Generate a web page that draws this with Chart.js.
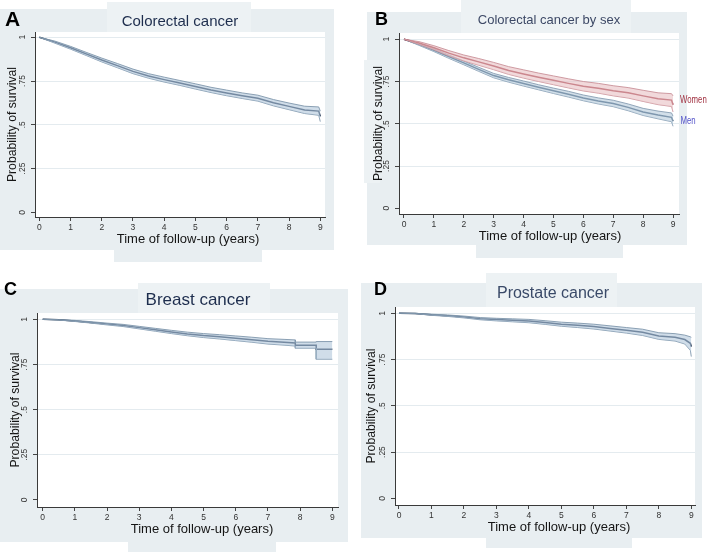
<!DOCTYPE html>
<html><head><meta charset="utf-8">
<script src="https://cdn.jsdelivr.net/npm/chart.js@4.4.1/dist/chart.umd.min.js"></script>
<style>
html,body{margin:0;padding:0;background:#fff;}
#wrap{position:relative;width:708px;height:552px;overflow:hidden;background:#fff;}
.bg{position:absolute;background:#e8eef1;}
.bx{position:absolute;background:#edf2f4;}
canvas{position:absolute;}
</style></head><body>
<div id="wrap">
  <div class="bg" style="left:0;top:9px;width:334px;height:241px"></div>
  <div class="bx" style="left:107px;top:2px;width:144px;height:31px"></div>
  <div class="bg" style="left:114px;top:245px;width:148px;height:17px"></div>

  <div class="bg" style="left:367px;top:12px;width:320px;height:233px"></div>
  <div class="bx" style="left:461px;top:0;width:170px;height:33px"></div>
  <div class="bg" style="left:476px;top:245px;width:147px;height:13px"></div>
  <div class="bx" style="left:364px;top:60px;width:16px;height:123px"></div>

  <div class="bg" style="left:0;top:289px;width:348px;height:253px"></div>
  <div class="bx" style="left:138px;top:283px;width:132px;height:30px"></div>
  <div class="bg" style="left:128px;top:535px;width:148px;height:17px"></div>

  <div class="bg" style="left:361px;top:283px;width:341px;height:255px"></div>
  <div class="bx" style="left:486px;top:273px;width:131px;height:34px"></div>
  <div class="bg" style="left:486px;top:530px;width:146px;height:18px"></div>

  <canvas id="cA" width="354" height="265" style="left:0;top:0"></canvas>
  <canvas id="cB" width="354" height="265" style="left:354px;top:0"></canvas>
  <canvas id="cC" width="354" height="282" style="left:0;top:270px"></canvas>
  <canvas id="cD" width="354" height="282" style="left:354px;top:270px"></canvas>
</div>
<script>
// ---- tick labels ----
const xTicks = [0, 1, 2, 3, 4, 5, 6, 7, 8, 9];
const yTicks = [0, 0.25, 0.5, 0.75, 1];
const yTickLabels = ['0', '.25', '.5', '.75', '1'];

// ---- A: colorectal cancer ----
const colTimes = [0, 0.5, 1, 1.5, 2, 2.5, 3, 3.5, 4, 4.5, 5, 5.5, 6, 6.5, 7, 7.5, 8, 8.5, 8.95, 9];
const colSurv  = [1, 0.972, 0.940, 0.905, 0.870, 0.838, 0.805, 0.779, 0.758, 0.739, 0.719, 0.699, 0.682, 0.666, 0.652, 0.626, 0.605, 0.585, 0.578, 0.548];
const colLower = [1, 0.966, 0.932, 0.896, 0.859, 0.826, 0.792, 0.766, 0.744, 0.725, 0.704, 0.684, 0.666, 0.650, 0.635, 0.608, 0.586, 0.564, 0.554, 0.518];
const colUpper = [1, 0.978, 0.948, 0.914, 0.881, 0.850, 0.818, 0.792, 0.772, 0.753, 0.734, 0.714, 0.698, 0.682, 0.669, 0.644, 0.624, 0.606, 0.602, 0.578];

// ---- B: colorectal cancer by sex ----
const sexTimes    = [0, 0.5, 1, 1.5, 2, 2.5, 3, 3.5, 4, 4.5, 5, 5.5, 6, 6.5, 7, 7.5, 8, 8.5, 8.95, 9];
const womenSurv   = [1, 0.978, 0.950, 0.918, 0.890, 0.866, 0.842, 0.815, 0.795, 0.775, 0.757, 0.739, 0.722, 0.710, 0.695, 0.683, 0.665, 0.648, 0.640, 0.612];
const womenLower  = [1, 0.970, 0.938, 0.902, 0.872, 0.846, 0.820, 0.792, 0.770, 0.750, 0.731, 0.712, 0.694, 0.681, 0.665, 0.652, 0.632, 0.613, 0.602, 0.570];
const womenUpper  = [1, 0.986, 0.962, 0.933, 0.907, 0.886, 0.863, 0.838, 0.819, 0.800, 0.783, 0.766, 0.750, 0.739, 0.725, 0.714, 0.698, 0.683, 0.678, 0.665];
const menSurv     = [1, 0.970, 0.935, 0.897, 0.860, 0.822, 0.785, 0.760, 0.738, 0.716, 0.695, 0.675, 0.653, 0.635, 0.620, 0.597, 0.570, 0.552, 0.538, 0.515];
const menLower    = [1, 0.964, 0.927, 0.887, 0.849, 0.810, 0.772, 0.746, 0.723, 0.701, 0.679, 0.658, 0.636, 0.617, 0.601, 0.577, 0.549, 0.529, 0.512, 0.485];
const menUpper    = [1, 0.976, 0.943, 0.907, 0.871, 0.834, 0.798, 0.774, 0.753, 0.731, 0.711, 0.692, 0.670, 0.653, 0.639, 0.617, 0.591, 0.575, 0.564, 0.545];
const groupLabels = ['Women', 'Men'];

// ---- C: breast cancer ----
const breastTimes = [0, 0.5, 1, 1.5, 2, 2.5, 3, 3.5, 4, 4.5, 5, 5.5, 6, 6.5, 7, 7.5, 7.85, 7.85, 8.5, 8.5, 9];
const breastSurv  = [1, 0.997, 0.991, 0.983, 0.974, 0.966, 0.954, 0.942, 0.930, 0.919, 0.910, 0.903, 0.895, 0.887, 0.878, 0.873, 0.869, 0.857, 0.857, 0.834, 0.834];
const breastLower = [1, 0.996, 0.988, 0.979, 0.969, 0.960, 0.947, 0.934, 0.921, 0.909, 0.899, 0.891, 0.882, 0.873, 0.863, 0.857, 0.852, 0.840, 0.840, 0.779, 0.779];
const breastUpper = [1, 0.998, 0.994, 0.987, 0.979, 0.972, 0.961, 0.950, 0.939, 0.929, 0.921, 0.915, 0.908, 0.901, 0.893, 0.889, 0.886, 0.874, 0.874, 0.877, 0.877];

// ---- D: prostate cancer ----
const prostTimes = [0, 0.5, 1, 1.5, 2, 2.5, 3, 3.5, 4, 4.5, 5, 5.5, 6, 6.5, 7, 7.5, 8, 8.5, 8.8, 8.97, 9];
const prostSurv  = [1, 0.999, 0.992, 0.987, 0.980, 0.971, 0.966, 0.962, 0.958, 0.950, 0.941, 0.935, 0.928, 0.918, 0.908, 0.897, 0.877, 0.870, 0.858, 0.838, 0.820];
const prostLower = [1, 0.998, 0.989, 0.983, 0.975, 0.965, 0.959, 0.954, 0.949, 0.940, 0.930, 0.923, 0.915, 0.904, 0.893, 0.880, 0.859, 0.850, 0.834, 0.800, 0.766];
const prostUpper = [1, 1.000, 0.995, 0.991, 0.985, 0.977, 0.973, 0.970, 0.967, 0.960, 0.952, 0.947, 0.941, 0.932, 0.923, 0.914, 0.895, 0.890, 0.882, 0.873, 0.870];

const FONT = 'Liberation Sans, Arial, Helvetica, sans-serif';

function pts(ts, vs) { return ts.map((t, i) => ({x: t, y: vs[i]})); }
function band(ts, lo, up, line, c) {
  return [
    {data: pts(ts, up), borderColor: c.edge, borderWidth: 0.9, backgroundColor: c.fill, fill: '+1', pointRadius: 0},
    {data: pts(ts, lo), borderColor: c.edge, borderWidth: 0.9, fill: false, pointRadius: 0},
    {data: pts(ts, line), borderColor: c.line, borderWidth: 1.5, fill: false, pointRadius: 0}
  ];
}
const blueC = {edge: '#7f96ac', fill: 'rgba(176,199,218,0.6)', line: '#1b2f4c'};
const menC  = {edge: '#879db2', fill: 'rgba(180,201,218,0.6)', line: '#2f4c6c'};
const womC  = {edge: '#c99198', fill: 'rgba(232,192,195,0.6)', line: '#a0323f'};

const panelText = {
  id: 'panelText',
  beforeDraw(chart) {
    const {ctx, chartArea: a} = chart;
    ctx.save();
    ctx.fillStyle = '#ffffff';
    ctx.fillRect(a.left, a.top, a.right - a.left, a.bottom - a.top);
    ctx.restore();
  },
  afterDraw(chart, args, opts) {
    const ctx = chart.ctx;
    (opts.items || []).forEach(t => {
      ctx.save();
      ctx.font = t.font;
      ctx.fillStyle = t.color;
      ctx.textAlign = t.align || 'center';
      ctx.textBaseline = t.baseline || 'middle';
      const y = (t.value !== undefined) ? chart.scales.y.getPixelForValue(t.value) : t.y;
      const x = (t.dx !== undefined) ? chart.chartArea.right + t.dx : t.x;
      ctx.translate(x, y);
      ctx.scale(t.sx || 1, 1);
      ctx.fillText(t.text, 0, 0);
      ctx.restore();
    });
  }
};

function makeChart(id, p) {
  return new Chart(document.getElementById(id), {
    type: 'line',
    data: {datasets: p.datasets},
    plugins: [panelText],
    options: {
      responsive: false,
      animation: false,
      devicePixelRatio: 1,
      layout: {padding: p.padding},
      elements: {line: {tension: 0}},
      plugins: {
        legend: {display: false},
        tooltip: {enabled: false},
        title: {display: false},
        panelText: {items: p.texts}
      },
      scales: {
        x: {
          type: 'linear', min: p.xMin, max: p.xMax,
          afterBuildTicks: s => { s.ticks = xTicks.map(v => ({value: v})); },
          afterFit: s => { s.height = p.xHeight; },
          ticks: {autoSkip: false, maxRotation: 0, padding: 2, color: '#333', font: {family: FONT, size: 8.5},
                  callback: v => String(v)},
          grid: {drawOnChartArea: false, drawTicks: true, tickLength: 4, tickColor: '#444'},
          border: {display: true, color: '#3a3a3a', width: 1}
        },
        y: {
          type: 'linear', min: p.yMin, max: p.yMax,
          afterBuildTicks: s => { s.ticks = yTicks.map(v => ({value: v})); },
          afterFit: s => { s.width = p.yWidth; },
          ticks: {autoSkip: false, minRotation: 90, maxRotation: 90, crossAlign: 'center', padding: 2,
                  color: '#333', font: {family: FONT, size: 8.5},
                  callback: v => { const i = yTicks.indexOf(v); return i >= 0 ? yTickLabels[i] : ''; }},
          grid: {drawTicks: true, tickLength: 4, tickColor: '#444', lineWidth: 1,
                 color: c => (c.tick && c.tick.value === 0) ? 'rgba(0,0,0,0)' : '#e4ebef'},
          border: {display: true, color: '#3a3a3a', width: 1},
          title: {display: true, text: 'Probability of survival', color: '#151515',
                  font: {family: FONT, size: 12.2}, padding: {top: p.yTitlePad, bottom: 0}}
        }
      }
    }
  });
}

makeChart('cA', {
  datasets: band(colTimes, colLower, colUpper, colSurv, blueC),
  xMin: -0.138, xMax: 9.151, yMin: -0.027, yMax: 1.030,
  yWidth: 35, xHeight: 48, padding: {left: 0, top: 32, right: 29, bottom: 0}, yTitlePad: 5.4,
  texts: [
    {text: 'A', x: 5, y: 26, align: 'left', baseline: 'alphabetic', font: 'bold 21px ' + FONT, color: '#000'},
    {text: 'Colorectal cancer', x: 180, y: 22, font: '15px ' + FONT, color: '#1d2d4d'},
    {text: 'Time of follow-up (years)', x: 188, y: 239, font: '13px ' + FONT, color: '#151515'}
  ]
});

makeChart('cB', {
  datasets: band(sexTimes, womenLower, womenUpper, womenSurv, womC).concat(band(sexTimes, menLower, menUpper, menSurv, menC)),
  xMin: -0.167, xMax: 9.20, yMin: -0.034, yMax: 1.037,
  yWidth: 45, xHeight: 51, padding: {left: 0, top: 33, right: 29, bottom: 0}, yTitlePad: 17.7,
  texts: [
    {text: 'B', x: 21, y: 25, align: 'left', baseline: 'alphabetic', font: 'bold 18px ' + FONT, color: '#000'},
    {text: 'Colorectal cancer by sex', x: 195, y: 20, font: '13px ' + FONT, color: '#3d4966'},
    {text: 'Time of follow-up (years)', x: 196, y: 236, font: '13px ' + FONT, color: '#151515'},
    {text: groupLabels[0], dx: 1, value: womenSurv[womenSurv.length - 2], align: 'left', sx: 0.78, font: '10px ' + FONT, color: '#a03040'},
    {text: groupLabels[1], dx: 1.5, value: menSurv[menSurv.length - 1], align: 'left', sx: 0.78, font: '10px ' + FONT, color: '#5050c8'}
  ]
});

makeChart('cC', {
  datasets: band(breastTimes, breastLower, breastUpper, breastSurv, blueC),
  xMin: -0.177, xMax: 9.177, yMin: -0.039, yMax: 1.035,
  yWidth: 37, xHeight: 45, padding: {left: 0, top: 43, right: 16, bottom: 0}, yTitlePad: 8.5,
  texts: [
    {text: 'C', x: 4, y: 25, align: 'left', baseline: 'alphabetic', font: 'bold 18px ' + FONT, color: '#000'},
    {text: 'Breast cancer', x: 198, y: 30, font: '17px ' + FONT, color: '#1d2d4d'},
    {text: 'Time of follow-up (years)', x: 202, y: 259, font: '13px ' + FONT, color: '#151515'}
  ]
});

makeChart('cD', {
  datasets: band(prostTimes, prostLower, prostUpper, prostSurv, blueC),
  xMin: -0.123, xMax: 9.114, yMin: -0.036, yMax: 1.034,
  yWidth: 41, xHeight: 47, padding: {left: 0, top: 37, right: 13, bottom: 0}, yTitlePad: 10.2,
  texts: [
    {text: 'D', x: 20, y: 25, align: 'left', baseline: 'alphabetic', font: 'bold 18px ' + FONT, color: '#000'},
    {text: 'Prostate cancer', x: 199, y: 24, font: '16px ' + FONT, color: '#3a4a68'},
    {text: 'Time of follow-up (years)', x: 205, y: 257, font: '13px ' + FONT, color: '#151515'}
  ]
});
</script>
</body></html>
